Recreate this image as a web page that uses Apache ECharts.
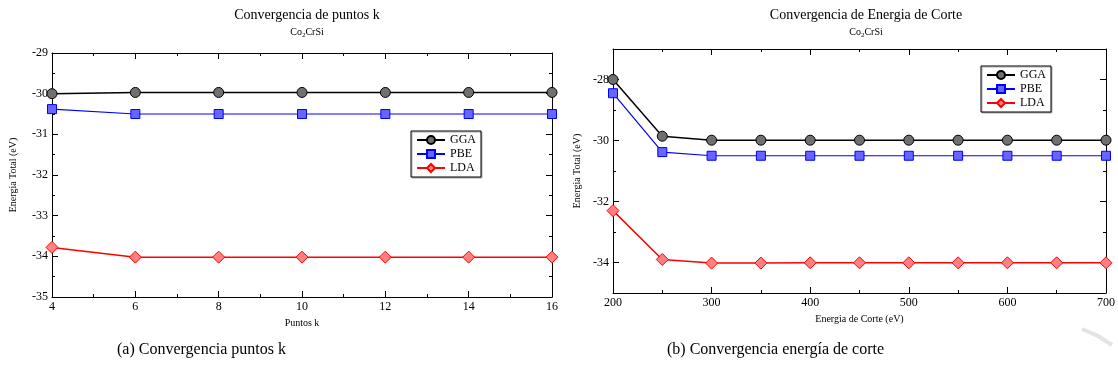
<!DOCTYPE html>
<html>
<head>
<meta charset="utf-8">
<script src="https://cdn.jsdelivr.net/npm/echarts@6/dist/echarts.min.js"></script>
<style>
  html, body { margin: 0; padding: 0; background: #fff; }
  #chart { width: 1118px; height: 375px; }
</style>
</head>
<body>
<div id="chart"></div>
<script>
// (a) puntos k
const kPoints = [4, 6, 8, 10, 12, 14, 16];
const kGGA = [-30.0, -29.97, -29.97, -29.97, -29.97, -29.97, -29.97];
const kPBE = [-30.38, -30.5, -30.5, -30.5, -30.5, -30.5, -30.5];
const kLDA = [-33.78, -34.02, -34.02, -34.02, -34.02, -34.02, -34.02];

// (b) energia de corte
const ecut = [200, 250, 300, 350, 400, 450, 500, 550, 600, 650, 700];
const eGGA = [-28.0, -29.86, -29.99, -29.99, -29.99, -29.99, -29.99, -29.99, -29.99, -29.99, -29.99];
const ePBE = [-28.45, -30.38, -30.5, -30.5, -30.5, -30.5, -30.5, -30.5, -30.5, -30.5, -30.5];
const eLDA = [-32.3, -33.9, -34.02, -34.02, -34.01, -34.01, -34.01, -34.01, -34.01, -34.01, -34.01];

// etiquetas del eje y de (b): pares con etiqueta, impares solo marca menor
const eYMajor = [-34, -32, -30, -28];
const eYMinor = [-33, -31, -29];

const serif = 'Liberation Serif';
const names = ['GGA', 'PBE', 'LDA'];

function pairs(xs, ys) {
    return xs.map(function (x, i) { return [x, ys[i]]; });
}

function baseAxis(extra) {
    const ax = {
        type: 'value',
        axisLine: { show: true, onZero: false, lineStyle: { color: '#000', width: 1 } },
        axisTick: { show: true, inside: true, length: 6, lineStyle: { color: '#000' } },
        minorTick: { show: true, splitNumber: 2, length: 3, lineStyle: { color: '#000' } },
        splitLine: { show: false },
        axisLabel: { color: '#000', fontFamily: serif, fontSize: 12, margin: 4 },
        nameTextStyle: { color: '#000', fontFamily: serif, fontSize: 10 }
    };
    return Object.assign(ax, extra);
}

// estilos de las tres series
const styles = {
    GGA: { symbol: 'circle', symbolSize: 10, line: '#000000', fill: '#707070', border: '#000000', width: 1.5 },
    PBE: { symbol: 'rect', symbolSize: 9, line: '#0000ff', fill: '#6666ff', border: '#0000ff', width: 1.2 },
    LDA: { symbol: 'diamond', symbolSize: 12, line: '#ff0000', fill: '#ff8080', border: '#ff0000', width: 1.5 }
};

function mkSeries(name, data, xi, yi) {
    const s = styles[name];
    return {
        name: name,
        type: 'line',
        xAxisIndex: xi,
        yAxisIndex: yi,
        data: data,
        symbol: s.symbol,
        symbolSize: s.symbolSize,
        clip: false,
        animation: false,
        lineStyle: { color: s.line, width: s.width },
        itemStyle: { color: s.fill, borderColor: s.border, borderWidth: 1 }
    };
}

function mkLegend(left, top) {
    return {
        data: names,
        orient: 'vertical',
        left: left,
        top: top,
        padding: [3, 5, 3, 5],
        itemGap: 2,
        itemWidth: 28,
        itemHeight: 10,
        backgroundColor: '#fff',
        borderColor: '#000',
        borderWidth: 1,
        shadowColor: '#aaa',
        shadowBlur: 0,
        shadowOffsetX: 1,
        shadowOffsetY: 1,
        textStyle: { color: '#000', fontFamily: serif, fontSize: 12 }
    };
}

const subRich = {
    s: { fontFamily: serif, fontSize: 7, color: '#000', padding: [7, 0, 0, 0] }
};

const option = {
    animation: false,
    backgroundColor: '#fff',
    title: [
        {
            text: 'Convergencia de puntos k',
            subtext: 'Co{s|2}CrSi',
            left: 302, top: 3, textAlign: 'center', itemGap: 3,
            textStyle: { fontFamily: serif, fontSize: 14, fontWeight: 'normal', color: '#000' },
            subtextStyle: { fontFamily: serif, fontSize: 10, color: '#000', rich: subRich }
        },
        {
            text: 'Convergencia de Energia de Corte',
            subtext: 'Co{s|2}CrSi',
            left: 861, top: 3, textAlign: 'center', itemGap: 3,
            textStyle: { fontFamily: serif, fontSize: 14, fontWeight: 'normal', color: '#000' },
            subtextStyle: { fontFamily: serif, fontSize: 10, color: '#000', rich: subRich }
        }
    ],
    legend: [mkLegend(411, 131), mkLegend(981, 66)],
    grid: [
        { left: 52, top: 53, width: 500, height: 244 },
        { left: 613, top: 49, width: 496, height: 244 }
    ],
    xAxis: [
        baseAxis({ gridIndex: 0, position: 'bottom', min: 4, max: 16, interval: 2,
            name: 'Puntos k', nameLocation: 'middle', nameGap: 19 }),
        baseAxis({ gridIndex: 0, position: 'top', min: 4, max: 16, interval: 2,
            axisLabel: { show: false } }),
        baseAxis({ gridIndex: 1, position: 'bottom', min: 200, max: 700, interval: 100,
            name: 'Energia de Corte (eV)', nameLocation: 'middle', nameGap: 18 }),
        baseAxis({ gridIndex: 1, position: 'top', min: 200, max: 700, interval: 100,
            axisLabel: { show: false } })
    ],
    yAxis: [
        baseAxis({ gridIndex: 0, position: 'left', min: -35, max: -29, interval: 1,
            name: 'Energia Total (eV)', nameLocation: 'middle', nameGap: 34 }),
        baseAxis({ gridIndex: 0, position: 'right', min: -35, max: -29, interval: 1,
            axisLabel: { show: false } }),
        baseAxis({ gridIndex: 1, position: 'left', min: -35, max: -27, interval: 1,
            minorTick: { show: false },
            axisTick: { show: true, inside: true, length: 6, customValues: eYMajor, lineStyle: { color: '#000' } },
            axisLabel: { color: '#000', fontFamily: serif, fontSize: 12, margin: 4, customValues: eYMajor },
            name: 'Energia Total (eV)', nameLocation: 'middle', nameGap: 31 }),
        baseAxis({ gridIndex: 1, position: 'right', min: -35, max: -27, interval: 1,
            minorTick: { show: false },
            axisTick: { show: true, inside: true, length: 6, customValues: eYMajor, lineStyle: { color: '#000' } },
            axisLabel: { show: false } }),
        baseAxis({ gridIndex: 1, position: 'left', min: -35, max: -27, interval: 1,
            axisLine: { show: false }, minorTick: { show: false },
            axisTick: { show: true, inside: true, length: 3, customValues: eYMinor, lineStyle: { color: '#000' } },
            axisLabel: { show: false } }),
        baseAxis({ gridIndex: 1, position: 'right', min: -35, max: -27, interval: 1,
            axisLine: { show: false }, minorTick: { show: false },
            axisTick: { show: true, inside: true, length: 3, customValues: eYMinor, lineStyle: { color: '#000' } },
            axisLabel: { show: false } })
    ],
    series: [
        mkSeries('GGA', pairs(kPoints, kGGA), 0, 0),
        mkSeries('PBE', pairs(kPoints, kPBE), 0, 0),
        mkSeries('LDA', pairs(kPoints, kLDA), 0, 0),
        mkSeries('GGA', pairs(ecut, eGGA), 2, 2),
        mkSeries('PBE', pairs(ecut, ePBE), 2, 2),
        mkSeries('LDA', pairs(ecut, eLDA), 2, 2)
    ],
    graphic: [
        { type: 'text', left: 117, top: 342,
          style: { text: '(a) Convergencia puntos k', font: '16px "Liberation Serif"', fill: '#000' } },
        { type: 'text', left: 667, top: 342,
          style: { text: '(b) Convergencia energía de corte', font: '16px "Liberation Serif"', fill: '#000' } },
        { type: 'polyline', silent: true,
          shape: { points: [[1082, 329], [1098, 336], [1112, 345]] },
          style: { stroke: '#e4e4e4', lineWidth: 4, fill: null } }
    ]
};

const chart = echarts.init(document.getElementById('chart'), null, { renderer: 'canvas' });
chart.setOption(option);
</script>
</body>
</html>
